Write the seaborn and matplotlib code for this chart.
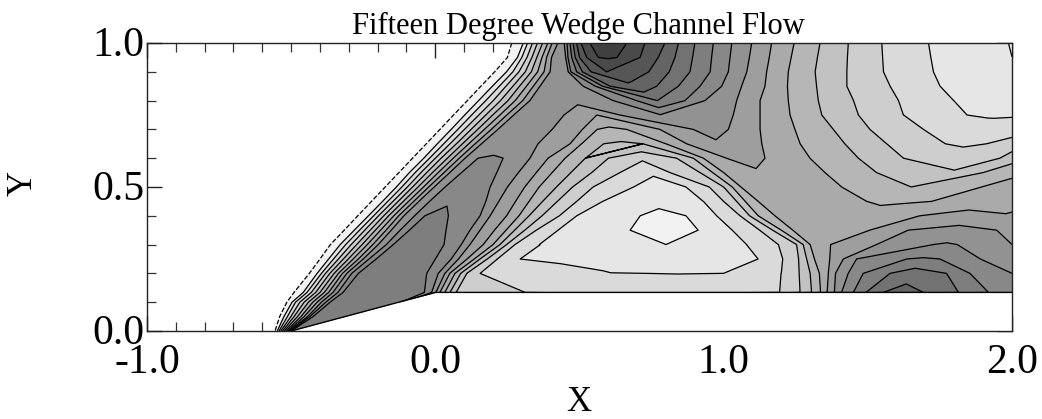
import numpy as np
import matplotlib
matplotlib.use("Agg")
import matplotlib.pyplot as plt
import matplotlib.tri as mtri
from matplotlib.transforms import ScaledTranslation
import seaborn as sns

# readings: along each row y, position x where the field has value v
y_rows = [1.0, 0.95, 0.9, 0.85, 0.8, 0.75, 0.7, 0.65, 0.6, 0.55, 0.5, 0.45, 0.4, 0.35, 0.3, 0.25, 0.2, 0.134, 0.1, 0.05, 0.0]

x_100 = [.245, .265, .305, .32, .337, .354, .372, .39, .405, .425, .44, .447, .457, .467, .478, .49, .505, .536, .6, .664, .727, .796, .843, .90, .964, 1.028, 1.097, 1.166, 1.244, 1.334, 1.432, 1.548, 1.71, 1.85, 1.987, 2.0]
v_100 = [-1, 0, 1, 2, 3, 4, 5, 6, 7, 8, 8.5, 9, 10, 11, 12, 13, 14, 15, 15.7, 15, 14, 13, 12, 11, 10, 9, 8, 7, 6, 5, 4, 3, 2, 1.4, 1, .95]

x_095 = [.23, .25, .285, .30, .318, .335, .352, .37, .386, .403, .435, .452, .46, .473, .485, .50, .525, .565, .6, .63, .71, .773, .831, .892, .958, 1.022, 1.089, 1.158, 1.234, 1.325, 1.429, 1.551, 1.718, 1.88, 2.0]
v_095 = [-1, 0, 1, 2, 3, 4, 5, 6, 7, 8, 8.4, 9, 10, 11, 12, 13, 14, 15, 15.1, 15, 14, 13, 12, 11, 10, 9, 8, 7, 6, 5, 4, 3, 2, 1.4, 1.0]

x_090 = [.186, .206, .247, .269, .29, .312, .333, .355, .377, .398, .43, .461, .47, .49, .51, .54, .594, .65, .74, .811, .883, .953, 1.016, 1.08, 1.149, 1.224, 1.317, 1.427, 1.554, 1.727, 1.9, 2.0]
v_090 = [-1, 0, 1, 2, 3, 4, 5, 6, 7, 8, 8.4, 9, 10, 11, 12, 13, 14, 13.7, 13, 12, 11, 10, 9, 8, 7, 6, 5, 4, 3, 2, 1.3, 1.0]

x_085 = [.138, .158, .198, .222, .245, .269, .292, .316, .34, .363, .42, .513, .555, .58, .606, .69, .768, .843, .918, .993, 1.062, 1.143, 1.221, 1.322, 1.427, 1.577, 1.75, 1.95, 2.0]
v_085 = [-1, 0, 1, 2, 3, 4, 5, 6, 7, 8, 8.4, 9, 10, 11, 12, 12.7, 12, 11, 10, 9, 8, 7, 6, 5, 4, 3, 2, 1.4, 1.35]

x_080 = [.091, .111, .15, .175, .201, .226, .252, .277, .303, .328, .467, .617, .698, .77, .866, .935, 1.045, 1.126, 1.224, 1.328, 1.45, 1.606, 1.797, 2.0]
v_080 = [-1, 0, 1, 2, 3, 4, 5, 6, 7, 8, 8.4, 9, 10, 11, 10, 9, 8, 7, 6, 5, 4, 3, 2, 1.65]

x_075 = [.043, .063, .102, .126, .151, .175, .199, .224, .248, .272, .38, .446, .56, .64, .78, 1.033, 1.126, 1.23, 1.34, 1.467, 1.623, 1.843, 1.92, 2.0]
v_075 = [-1, 0, 1, 2, 3, 4, 5, 6, 7, 8, 8.35, 8, 7, 8, 8.95, 8, 7, 6, 5, 4, 3, 2, 1.85, 1.9]

x_070 = [-.004, .016, .055, .078, .101, .124, .147, .17, .194, .217, .33, .405, .51, .561, .61, .664, .779, .895, .955, 1.016, 1.126, 1.247, 1.38, 1.507, 1.692, 1.9, 2.0]
v_070 = [-1, 0, 1, 2, 3, 4, 5, 6, 7, 8, 8.3, 8, 7, 6, 5.8, 6, 7, 8, 8.25, 8, 7, 6, 5, 4, 3, 2.55, 2.5]

x_065 = [-.0515, -.0315, .007, .029, .051, .073, .094, .116, .138, .16, .25, .356, .467, .507, .583, .65, .72, .80, .872, .98, 1.132, 1.265, 1.42, 1.565, 1.768, 1.84, 1.912, 2.0]
v_065 = [-1, 0, 1, 2, 3, 4, 5, 6, 7, 8, 8.6, 8, 7, 6, 5, 4.85, 5, 6, 7, 7.9, 7, 6, 5, 4, 3, 2.85, 3, 3.4]

x_060 = [-.099, -.079, -.04, -.02, 0, .02, .042, .062, .083, .103, .148, .19, .235, .328, .391, .45, .52, .60, .71, .837, .895, .93, 1.01, 1.08, 1.143, 1.299, 1.467, 1.623, 1.8, 1.958, 2.0]
v_060 = [-1, 0, 1, 2, 3, 4, 5, 6, 7, 8, 9, 9.1, 9, 8, 7, 6, 5, 4, 3.2, 4, 5, 6, 7, 7.25, 7, 6, 5, 4, 3.5, 4, 4.5]

x_055 = [-.1465, -.1265, -.09, -.07, -.05, -.03, -.01, .01, .03, .05, .091, .16, .213, .288, .35, .405, .47, .542, .64, .755, .814, .918, .962, 1.0, 1.125, 1.351, 1.53, 1.8, 1.9, 2.0]
v_055 = [-1, 0, 1, 2, 3, 4, 5, 6, 7, 8, 9, 9.3, 9, 8, 7, 6, 5, 4, 3, 2.1, 3, 4, 5, 6, 6.9, 6, 5, 4.1, 5, 5.8]

x_050 = [-.194, -.174, -.135, -.116, -.097, -.079, -.06, -.041, -.023, -.004, .034, .11, .19, .25, .31, .36, .42, .476, .547, .687, .76, .87, .95, 1.0, 1.03, 1.06, 1.25, 1.409, 1.5, 1.65, 1.8, 1.895, 2.0]
v_050 = [-1, 0, 1, 2, 3, 4, 5, 6, 7, 8, 9, 9.3, 9, 8, 7, 6, 5, 4, 3, 2, 1.7, 2, 3, 4, 5, 6, 6.4, 6, 5.5, 5, 5.3, 6, 6.3]

x_045 = [-.2415, -.2215, -.183, -.165, -.147, -.129, -.111, -.093, -.075, -.057, -.02, .06, .175, .22, .278, .325, .372, .423, .49, .58, .76, .93, 1.0, 1.045, 1.075, 1.12, 1.3, 1.496, 1.6, 1.721, 1.85, 2.0]
v_045 = [-1, 0, 1, 2, 3, 4, 5, 6, 7, 8, 9, 9.9, 9, 8, 7, 6, 5, 4, 3, 2, 1.3, 2, 3, 4, 5, 6, 6.5, 6, 5.8, 6, 6.4, 6.7]

x_040 = [-.289, -.269, -.232, -.214, -.197, -.179, -.162, -.144, -.127, -.109, -.072, -.036, 0, .045, .155, .19, .247, .29, .325, .37, .43, .49, .6, .71, .79, .87, .976, 1.057, 1.09, 1.12, 1.178, 1.4, 1.681, 1.85, 2.0]
v_040 = [-1, 0, 1, 2, 3, 4, 5, 6, 7, 8, 9, 10, 10.2, 10, 9, 8, 7, 6, 5, 4, 3, 2, 1.5, 1, .7, 1, 2, 3, 4, 5, 6, 6.5, 7, 7.4, 7.1]

x_035 = [-.336, -.316, -.281, -.263, -.245, -.226, -.208, -.19, -.171, -.153, -.122, -.09, -.02, .037, .12, .155, .205, .245, .275, .31, .35, .425, .55, .675, .79, .912, 1.03, 1.125, 1.17, 1.2, 1.24, 1.507, 1.64, 1.8, 1.947, 2.0]
v_035 = [-1, 0, 1, 2, 3, 4, 5, 6, 7, 8, 9, 10, 10.3, 10, 9, 8, 7, 6, 5, 4, 3, 2, 1.5, 1, .6, 1, 2, 3, 4, 5, 6, 7, 8, 8.3, 8, 7.55]

x_030 = [-.384, -.364, -.33, -.311, -.292, -.273, -.254, -.236, -.217, -.198, -.17, -.146, -.05, .03, .09, .12, .166, .2, .224, .247, .276, .36, .5, .7, .80, .95, 1.08, 1.19, 1.253, 1.276, 1.30, 1.371, 1.53, 1.727, 1.77, 1.81, 2.0]
v_030 = [-1, 0, 1, 2, 3, 4, 5, 6, 7, 8, 9, 10, 10.4, 10, 9, 8, 7, 6, 5, 4, 3, 2, 1.5, 1.15, 1, 1.3, 2, 3, 4, 5, 6, 7, 8, 9, 9.1, 9, 8]

x_025 = [-.42, -.40, -.37, -.353, -.336, -.319, -.302, -.285, -.267, -.25, -.23, -.205, -.09, 0, .055, .08, .11, .135, .155, .18, .215, .29, .5, .8, 1.0, 1.12, 1.205, 1.26, 1.288, 1.315, 1.368, 1.415, 1.461, 1.635, 1.69, 1.75, 1.89, 2.0]
v_025 = [-1, 0, 1, 2, 3, 4, 5, 6, 7, 8, 9, 10, 10.4, 10, 9, 8, 7, 6, 5, 4, 3, 2, 1.9, 1.5, 1.7, 2, 3, 4, 5, 6, 7, 8, 9, 10, 10.1, 10, 9, 8.5]

x_020 = [-.457, -.437, -.41, -.395, -.381, -.366, -.351, -.336, -.322, -.307, -.29, -.267, -.12, -.03, .01, .033, .05, .068, .088, .109, .155, .3, .6, .85, 1.0, 1.2, 1.262, 1.3, 1.332, 1.363, 1.388, 1.432, 1.484, 1.577, 1.65, 1.773, 1.854, 1.93, 2.0]
v_020 = [-1, 0, 1, 2, 3, 4, 5, 6, 7, 8, 9, 10, 10.4, 10, 9, 8, 7, 6, 5, 4, 3, 2.2, 2.02, 1.98, 2, 3, 4, 5, 6, 7, 8, 9, 10, 11, 11.5, 11, 10, 9.4, 9]

x_013 = [-.51, -.49, -.458, -.445, -.43, -.415, -.40, -.385, -.37, -.355, -.338, -.32, -.15, -.038, -.013, .002, .016, .033, .051, .072, .14, .28, .311, .5, .8, 1.0, 1.195, 1.265, 1.305, 1.336, 1.359, 1.384, 1.409, 1.45, 1.494, 1.554, 1.62, 1.692, 1.814, 1.918, 2.0]
v_013 = [-1, 0, 1, 2, 3, 4, 5, 6, 7, 8, 9, 10, 10.5, 10, 9, 8, 7, 6, 5, 4, 3.5, 3.05, 3, 2.6, 2.5, 2.6, 3, 4, 5, 6, 7, 8, 9, 10, 11, 12, 12.4, 12, 11, 10, 9.4]

x_010 = [-.535, -.515, -.497, -.485, -.47, -.455, -.44, -.425, -.41, -.395, -.38, -.365, -.127]
v_010 = [-1, 0, 1, 2, 3, 4, 5, 6, 7, 8, 9, 10, 10.3]

x_005 = [-.56, -.54, -.525, -.513, -.501, -.49, -.478, -.466, -.455, -.443, -.435, -.424, -.313]
v_005 = [-1, 0, 1, 2, 3, 4, 5, 6, 7, 8, 9, 10, 10.4]

x_000 = [-.576, -.556, -.548, -.542, -.536, -.53, -.524, -.518, -.512, -.508, -.504, -.5]
v_000 = [-1, 0, 1, 2, 3, 4, 5, 6, 7, 8, 9, 10]

x_rows = [x_100, x_095, x_090, x_085, x_080, x_075, x_070, x_065, x_060, x_055, x_050, x_045, x_040, x_035, x_030, x_025, x_020, x_013, x_010, x_005, x_000]
v_rows = [v_100, v_095, v_090, v_085, v_080, v_075, v_070, v_065, v_060, v_055, v_050, v_045, v_040, v_035, v_030, v_025, v_020, v_013, v_010, v_005, v_000]

# lower wall of the channel
wall_x = [-0.5, 0.0, 2.0]
wall_y = [0.0, 0.134, 0.134]

band_grays = ["#f2f2f2", "#e6e6e6", "#dadada", "#cecece", "#c2c2c2", "#b6b6b6", "#aaaaaa", "#9e9e9e",
              "#929292", "#888888", "#7e7e7e", "#727272", "#646464", "#565656", "#4a4a4a", "#404040"]


def zip_rows(xa, va, xb, vb, ia, ib):
    # pair two neighbouring rows so triangle edges join equal values, and stay close in x
    n, m = len(va), len(vb)
    cost = np.full((n, m), np.inf)
    step = np.zeros((n, m), dtype=int)
    cost[0, 0] = abs(va[0] - vb[0])
    for i in range(n):
        for j in range(m):
            if i == 0 and j == 0:
                continue
            here = abs(va[i] - vb[j]) + 4 * abs(xa[i] - xb[j])
            up = cost[i - 1, j] if i else np.inf
            left = cost[i, j - 1] if j else np.inf
            step[i, j] = 0 if up <= left else 1
            cost[i, j] = here + min(up, left)
    tris = []
    i, j = n - 1, m - 1
    while i or j:
        if step[i, j] == 0:
            tris.append([ia + i, ia + i - 1, ib + j])
            i -= 1
        else:
            tris.append([ia + i, ib + j - 1, ib + j])
            j -= 1
    return tris


xp = np.concatenate(x_rows)
vp = np.array(np.concatenate(v_rows), dtype=float)
yp = np.concatenate([[y] * len(x) for y, x in zip(y_rows, x_rows)])
starts = np.cumsum([0] + [len(x) for x in x_rows])
triangles = []
for k in range(len(x_rows) - 1):
    triangles += zip_rows(x_rows[k], v_rows[k], x_rows[k + 1], v_rows[k + 1], starts[k], starts[k + 1])
mesh = mtri.Triangulation(xp, yp, triangles=np.array(triangles))

sns.set_theme(style="ticks", rc={"axes.linewidth": 1.0, "axes.edgecolor": "#222222"})
plt.rcParams["font.family"] = ["Liberation Serif", "DejaVu Serif"]

fig = plt.figure(figsize=(10.42, 4.19), dpi=100)
ax = fig.add_axes([147 / 1042, 1 - 331 / 419, 865 / 1042, 288 / 419])

levels = np.arange(0, 17) - 0.002
ax.tricontourf(mesh, vp, levels=levels, colors=sns.color_palette(band_grays))
ax.tricontour(mesh, vp, levels=levels, colors="black", linewidths=0.9)

ax.fill_between(wall_x, 0, wall_y, color="white", zorder=2, lw=0)
ax.plot(wall_x, wall_y, color="black", lw=1.0, zorder=3)

ax.set_xlim(-1, 2)
ax.set_ylim(0, 1)
ax.set_xticks([-1, 0, 1, 2])
ax.set_xticks(np.arange(-1, 2.01, 0.1), minor=True)
ax.set_yticks([0, 0.5, 1])
ax.set_yticks(np.arange(0, 1.01, 0.1), minor=True)
ax.set_xticklabels(["-1.0", "0.0", "1.0", "2.0"])
ax.set_yticklabels(["0.0", "0.5", "1.0"])
ax.tick_params(which="major", direction="in", top=True, right=True, length=11, width=1.0,
               labelsize=30, pad=2, color="#222222", labelcolor="black")
ax.tick_params(axis="x", which="major", pad=9)
ax.tick_params(which="minor", direction="in", top=True, right=True, length=6.5, width=0.9, color="#333333")
for t in ax.xaxis.get_minor_ticks():
    if abs(abs(t.get_loc()) - 0.5) < 0.01 or abs(t.get_loc() - 1.5) < 0.01:
        t.tick1line.set_markersize(8.5)
        t.tick2line.set_markersize(8.5)
for t in ax.get_yticklabels():
    t.set_verticalalignment("center")
    t.set_transform(t.get_transform() + ScaledTranslation(0, -3 / 100, fig.dpi_scale_trans))

fig.text(578 / 1042, 1 - 26 / 419, "Fifteen Degree Wedge Channel Flow", ha="center", va="center", fontsize=22, color="black")
fig.text(579 / 1042, 1 - 402 / 419, "X", ha="center", va="center", fontsize=25, color="black")
fig.text(23 / 1042, 1 - 183 / 419, "Y", ha="center", va="center", rotation=90, fontsize=25, color="black")

fig.savefig("out.png", dpi=100, facecolor="white")
